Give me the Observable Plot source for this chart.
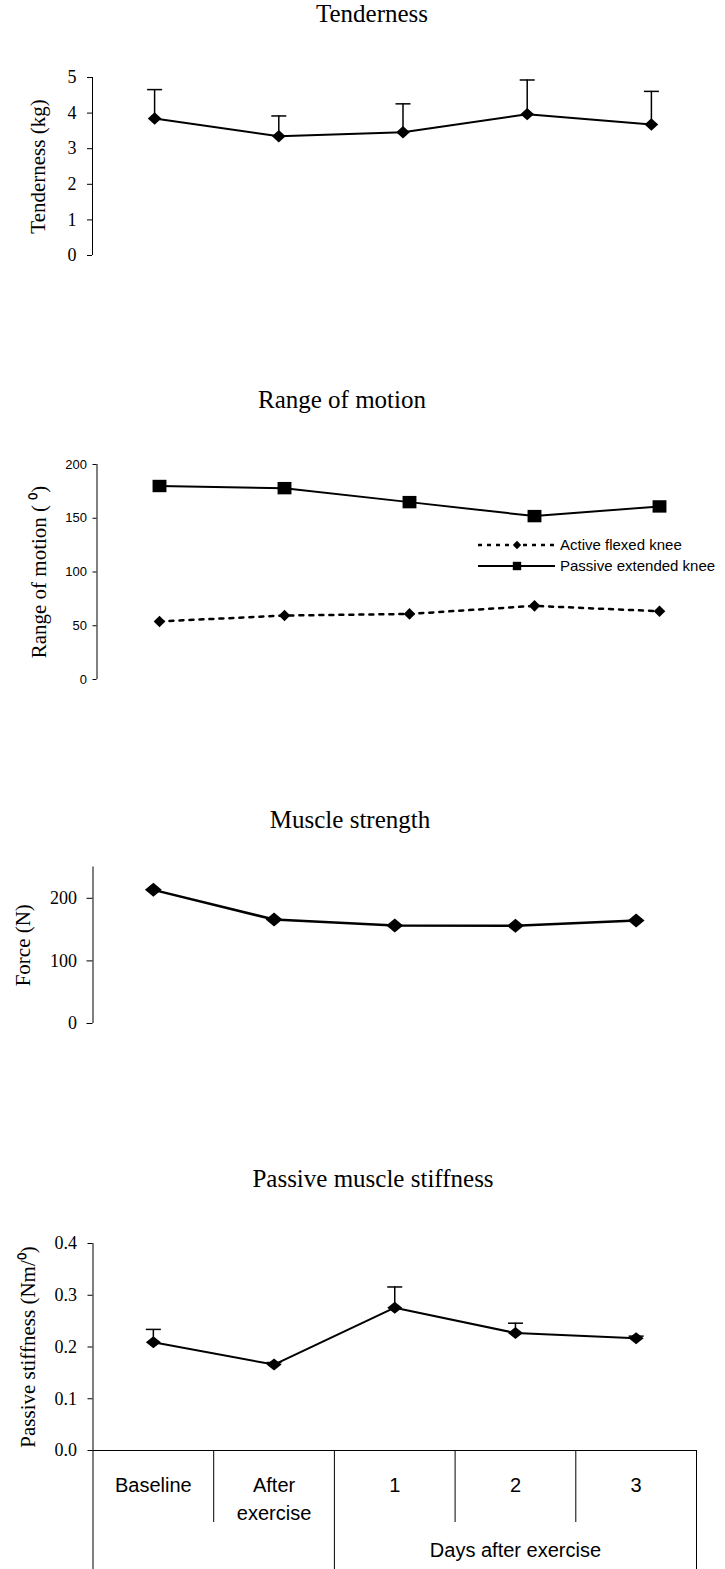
<!DOCTYPE html>
<html><head><meta charset="utf-8">
<script src="https://cdn.jsdelivr.net/npm/d3@7"></script>
<script src="https://cdn.jsdelivr.net/npm/@observablehq/plot@0.6"></script>
<style>
body{margin:0;background:#fff;}
#c{position:relative;width:725px;height:1569px;overflow:hidden;background:#fff;}
.t{position:absolute;font-family:"Liberation Serif","Times New Roman",serif;font-size:25px;line-height:25px;white-space:nowrap;transform:translateX(-50%);color:#000;}
</style></head><body><div id="c"></div>
<script>
// ---------- data ----------
const categories = ["Baseline", "After\nexercise", "1", "2", "3"];
const groupLabel = "Days after exercise";
const tenderness = [3.85, 3.35, 3.46, 3.97, 3.68];
const tendernessErr = [0.81, 0.57, 0.80, 0.96, 0.93];
const tendernessTicks = [0, 1, 2, 3, 4, 5];
const romActive = [54, 59.5, 61, 68.5, 63.5];
const romPassive = [180, 178, 165, 152, 161];
const romTicks = [0, 50, 100, 150, 200];
const romSeries = ["Active flexed knee", "Passive extended knee"];
const strength = [213.5, 166, 156.5, 156, 164.5];
const strengthTicks = [0, 100, 200];
const stiffness = [0.209, 0.166, 0.276, 0.227, 0.217];
const stiffnessErr = [0.025, 0.004, 0.040, 0.019, 0.004];
const stiffnessTicks = [0, 0.1, 0.2, 0.3, 0.4];
const titles = ["Tenderness", "Range of motion", "Muscle strength", "Passive muscle stiffness"];
const yLabels = ["Tenderness (kg)", "Range of motion ( \u2070)", "Force (N)", "Passive stiffness (Nm/\u2070)"];

// ---------- helpers ----------
const C = document.getElementById("c");
const serif = '"Liberation Serif", "Times New Roman", serif';
const sans = '"Liberation Sans", Arial, sans-serif';
const idx = d3.range(categories.length);
const diamond = (k) => ({draw(ctx, size) {const r = Math.sqrt(size / Math.PI); ctx.moveTo(0, -r); ctx.lineTo(k * r, 0); ctx.lineTo(0, r); ctx.lineTo(-k * r, 0); ctx.closePath();}});
const rectSym = (k) => ({draw(ctx, size) {const r = Math.sqrt(size / Math.PI); ctx.rect(-k * r, -r, 2 * k * r, 2 * r);}});
const capSym = {draw(ctx, size) {const r = Math.sqrt(size / Math.PI); ctx.moveTo(-r, 0); ctx.lineTo(r, 0);}};
const yTitle = (label, dx) => Plot.text([label], {text: d => d, frameAnchor: "left", textAnchor: "middle", lineAnchor: "middle", rotate: -90, dx, fontSize: 21, fontFamily: serif});

function title(text, cx, top) {
  const d = document.createElement("div");
  d.className = "t"; d.textContent = text;
  d.style.left = cx + "px"; d.style.top = top + "px";
  C.appendChild(d);
}
function place(el, top) {
  el.style.position = "absolute"; el.style.left = "0px"; el.style.top = top + "px";
  C.appendChild(el);
}

// ---------- panel 1: Tenderness ----------
title(titles[0], 372, 0.8);
const d1 = idx.map(i => ({i, v: tenderness[i], e: tenderness[i] + tendernessErr[i]}));
place(Plot.plot({
  width: 725, height: 210, marginLeft: 92, marginRight: 12, marginTop: 17, marginBottom: 15,
  style: {fontFamily: serif, fontSize: "18px", background: "transparent", color: "#000", overflow: "visible"},
  x: {domain: [-0.5, 4.5], axis: null},
  y: {domain: [0, 5], axis: null},
  marks: [
    Plot.ruleX([-0.5], {stroke: "#000"}),
    Plot.axisY({ticks: tendernessTicks, tickSize: 5, tickPadding: 11, tickFormat: d3.format("d"), label: null}),
    Plot.ruleX(d1, {x: "i", y1: "v", y2: "e", stroke: "#000", strokeWidth: 1.5}),
    Plot.dot(d1, {x: "i", y: "e", symbol: capSym, r: 7.5, fill: "none", stroke: "#000", strokeWidth: 1.5}),
    Plot.line(d1, {x: "i", y: "v", stroke: "#000", strokeWidth: 2}),
    Plot.dot(d1, {x: "i", y: "v", symbol: diamond(1.1), r: 6.2, fill: "#000", stroke: "none"}),
    yTitle(yLabels[0], -54)
  ]
}), 60);

// ---------- panel 2: Range of motion ----------
title(titles[1], 342, 387.4);
const d2a = idx.map(i => ({i, v: romActive[i]}));
const d2p = idx.map(i => ({i, v: romPassive[i]}));
place(Plot.plot({
  width: 725, height: 250, marginLeft: 96.5, marginRight: 3.5, marginTop: 24, marginBottom: 11,
  style: {fontFamily: sans, fontSize: "13px", background: "transparent", color: "#000", overflow: "visible"},
  x: {domain: [-0.5, 4.5], axis: null},
  y: {domain: [0, 200], axis: null},
  marks: [
    Plot.ruleX([-0.5], {stroke: "#000"}),
    Plot.axisY({ticks: romTicks, tickSize: 4, tickPadding: 6, tickFormat: d3.format("d"), label: null}),
    Plot.line(d2a, {x: "i", y: "v", stroke: "#000", strokeWidth: 2.5, strokeDasharray: "4,6"}),
    Plot.dot(d2a, {x: "i", y: "v", symbol: diamond(1.0), r: 5.8, fill: "#000", stroke: "none"}),
    Plot.line(d2p, {x: "i", y: "v", stroke: "#000", strokeWidth: 2}),
    Plot.dot(d2p, {x: "i", y: "v", symbol: rectSym(1.12), r: 6.2, fill: "#000", stroke: "none"}),
    yTitle(yLabels[1], -58)
  ]
}), 440);

// legend for panel 2
{
  const lg = d3.create("svg").attr("width", 260).attr("height", 44)
    .style("position", "absolute").style("left", "465px").style("top", "530px");
  const rows = [
    {label: romSeries[0], y: 15, dash: "4,5", w: 2.5, sym: d3.symbol(diamond(1.0), 4.2 * 4.2 * Math.PI)},
    {label: romSeries[1], y: 36, dash: null, w: 2, sym: d3.symbol(rectSym(1.0), 4.2 * 4.2 * Math.PI)}
  ];
  for (const r of rows) {
    lg.append("line").attr("x1", 13).attr("x2", 90).attr("y1", r.y).attr("y2", r.y)
      .attr("stroke", "#000").attr("stroke-width", r.w).attr("stroke-dasharray", r.dash);
    lg.append("path").attr("d", r.sym()).attr("transform", `translate(52,${r.y})`).attr("fill", "#000");
    lg.append("text").attr("x", 95).attr("y", r.y).attr("dy", "0.35em")
      .attr("font-family", sans).attr("font-size", 15).text(r.label);
  }
  C.appendChild(lg.node());
}

// ---------- panel 3: Muscle strength ----------
title(titles[2], 350, 807.4);
const d3s = idx.map(i => ({i, v: strength[i]}));
place(Plot.plot({
  width: 725, height: 185, marginLeft: 92.5, marginRight: 29, marginTop: 16.5, marginBottom: 12,
  style: {fontFamily: serif, fontSize: "18px", background: "transparent", color: "#000", overflow: "visible"},
  x: {domain: [-0.5, 4.5], axis: null},
  y: {domain: [0, 250], axis: null},
  marks: [
    Plot.ruleX([-0.5], {stroke: "#000"}),
    Plot.axisY({ticks: strengthTicks, tickSize: 6, tickPadding: 10, tickFormat: d3.format("d"), label: null}),
    Plot.line(d3s, {x: "i", y: "v", stroke: "#000", strokeWidth: 2.5}),
    Plot.dot(d3s, {x: "i", y: "v", symbol: diamond(1.2), r: 7, fill: "#000", stroke: "none"}),
    yTitle(yLabels[2], -70)
  ]
}), 850);

// ---------- panel 4: Passive muscle stiffness ----------
title(titles[3], 373, 1165.8);
const d4 = idx.map(i => ({i, v: stiffness[i], e: stiffness[i] + stiffnessErr[i]}));
place(Plot.plot({
  width: 725, height: 344, marginLeft: 92.5, marginRight: 29, marginTop: 18, marginBottom: 119,
  style: {fontFamily: serif, fontSize: "18px", background: "transparent", color: "#000", overflow: "visible"},
  x: {domain: [-0.5, 4.5], axis: null},
  y: {domain: [0, 0.4], axis: null},
  marks: [
    Plot.ruleX([-0.5], {stroke: "#000"}),
    Plot.ruleY([0], {stroke: "#000"}),
    Plot.axisY({ticks: stiffnessTicks, tickSize: 5, tickPadding: 11, tickFormat: d3.format(".1f"), label: null}),
    Plot.axisX({ticks: [-0.5, 1.5, 4.5], tickSize: 119, tickFormat: () => "", label: null}),
    Plot.axisX({ticks: [0.5, 2.5, 3.5], tickSize: 72, tickFormat: () => "", label: null}),
    Plot.axisX({ticks: idx, tickSize: 0, tickPadding: 22, tickFormat: i => categories[i], label: null, fontFamily: sans, fontSize: 20, lineHeight: 1.4}),
    Plot.axisX({ticks: [3], tickSize: 0, tickPadding: 92, tickFormat: () => groupLabel, label: null, fontFamily: sans, fontSize: 20}),
    Plot.ruleX(d4, {x: "i", y1: "v", y2: "e", stroke: "#000", strokeWidth: 1.5}),
    Plot.dot(d4, {x: "i", y: "e", symbol: capSym, r: 7.5, fill: "none", stroke: "#000", strokeWidth: 1.5}),
    Plot.line(d4, {x: "i", y: "v", stroke: "#000", strokeWidth: 2}),
    Plot.dot(d4, {x: "i", y: "v", symbol: diamond(1.25), r: 6, fill: "#000", stroke: "none"}),
    yTitle(yLabels[3], -64.5)
  ]
}), 1225);
</script></body></html>
